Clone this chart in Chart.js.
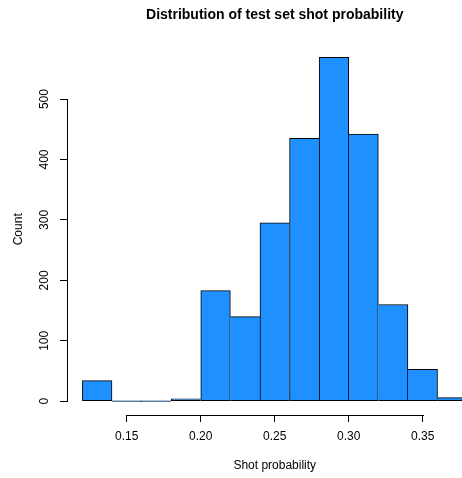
<!DOCTYPE html>
<html>
<head>
<meta charset="utf-8">
<script src="https://cdn.jsdelivr.net/npm/chart.js@4"></script>
<style>
    html, body { margin: 0; padding: 0; background: #fff; overflow: hidden; }
    canvas { display: block; }
</style>
</head>
<body>
<canvas id="histChart" width="550" height="478"></canvas>
<script>
const titleText = 'Distribution of test set shot probability';
const xTitle = 'Shot probability';
const yTitle = 'Count';

// histogram bin edges and counts per bin
const breaks = [0.12, 0.14, 0.16, 0.18, 0.20, 0.22, 0.24, 0.26, 0.28, 0.30, 0.32, 0.34, 0.36, 0.38];
const counts = [34, 0, 0, 4, 183, 140, 295, 435, 569, 442, 160, 53, 6];

const xTicks = [0.15, 0.20, 0.25, 0.30, 0.35];
const xTickLabels = ['0.15', '0.20', '0.25', '0.30', '0.35'];
const yTicks = [0, 100, 200, 300, 400, 500];
const yTickLabels = ['0', '100', '200', '300', '400', '500'];

const fontFamily = '"Liberation Sans", Arial, Helvetica, sans-serif';
Chart.defaults.font.family = fontFamily;
Chart.defaults.color = '#000';

// R pads the plot range by 4% on each side
const xSpan = breaks[breaks.length - 1] - breaks[0];
const xMin = breaks[0] - 0.04 * xSpan;
const xMax = breaks[breaks.length - 1] + 0.04 * xSpan;
const yTop = Math.max(...counts);
const yMin = -0.04 * yTop;
const yMax = yTop * 1.04;

// axis lines only run from the first to the last tick, like base R
const axisLines = {
    id: 'axisLines',
    afterDraw(chart) {
        const { ctx, chartArea, scales: { x, y } } = chart;
        const left = Math.round(chartArea.left) + 0.5;
        const bottom = Math.round(chartArea.bottom) + 0.5;
        ctx.save();
        ctx.strokeStyle = '#000';
        ctx.lineWidth = 1;
        ctx.beginPath();
        ctx.moveTo(left, Math.round(y.getPixelForValue(yTicks[0])) + 1);
        ctx.lineTo(left, Math.round(y.getPixelForValue(yTicks[yTicks.length - 1])));
        ctx.moveTo(Math.round(x.getPixelForValue(xTicks[0])), bottom);
        ctx.lineTo(Math.round(x.getPixelForValue(xTicks[xTicks.length - 1])) + 1, bottom);
        ctx.stroke();
        ctx.restore();
    }
};

// main title centred over the plot region
const mainTitle = {
    id: 'mainTitle',
    afterDraw(chart) {
        const { ctx, chartArea } = chart;
        ctx.save();
        ctx.font = 'bold 14px ' + fontFamily;
        ctx.fillStyle = '#000';
        ctx.textAlign = 'center';
        ctx.textBaseline = 'alphabetic';
        ctx.fillText(titleText, (chartArea.left + chartArea.right) / 2, 19);
        ctx.restore();
    }
};

function barBorder(ctx) {
    const i = ctx.dataIndex;
    const n = counts.length;
    return {
        top: 1,
        bottom: 1,
        left: (i === 0 || counts[i - 1] < counts[i]) ? 1 : 0,
        right: (i === n - 1 || counts[i + 1] <= counts[i]) ? 1 : 0
    };
}

const histCtx = document.getElementById('histChart').getContext('2d');
new Chart(histCtx, {
    type: 'bar',
    data: {
        datasets: [{
            data: counts.map((c, i) => ({ x: (breaks[i] + breaks[i + 1]) / 2, y: c })),
            backgroundColor: '#1E90FF',
            borderColor: '#000',
            borderWidth: barBorder,
            borderSkipped: false,
            minBarLength: 1,
            barPercentage: 1,
            categoryPercentage: 1
        }]
    },
    options: {
        responsive: false,
        animation: false,
        layout: {
            padding: { top: 43.6, right: 67.5, bottom: 0, left: 0 }
        },
        plugins: {
            legend: { display: false },
            tooltip: { enabled: false },
            title: { display: false }
        },
        scales: {
            x: {
                type: 'linear',
                min: xMin,
                max: xMax,
                offset: false,
                afterBuildTicks: (s) => { s.ticks = xTicks.map(v => ({ value: v })); },
                afterFit: (s) => { s.height = 63; },
                border: { display: false },
                grid: {
                    offset: false,
                    drawOnChartArea: false,
                    drawTicks: true,
                    tickLength: 7,
                    color: '#000',
                    lineWidth: 1
                },
                ticks: {
                    autoSkip: false,
                    maxRotation: 0,
                    padding: 7.5,
                    color: '#000',
                    font: { size: 12 },
                    callback: (v, i) => xTickLabels[i]
                },
                title: {
                    display: true,
                    text: xTitle,
                    color: '#000',
                    font: { size: 12 },
                    padding: { top: 0, bottom: 5 }
                }
            },
            y: {
                type: 'linear',
                min: yMin,
                max: yMax,
                afterBuildTicks: (s) => { s.ticks = yTicks.map(v => ({ value: v })); },
                afterFit: (s) => { s.width = 67; },
                border: { display: false },
                grid: {
                    drawOnChartArea: false,
                    drawTicks: true,
                    tickLength: 7,
                    color: '#000',
                    lineWidth: 1
                },
                ticks: {
                    autoSkip: false,
                    minRotation: 90,
                    maxRotation: 90,
                    crossAlign: 'center',
                    padding: 5,
                    color: '#000',
                    font: { size: 12 },
                    callback: (v, i) => yTickLabels[i]
                },
                title: {
                    display: true,
                    text: yTitle,
                    color: '#000',
                    font: { size: 12 },
                    padding: { top: 11, bottom: 0 }
                }
            }
        }
    },
    plugins: [axisLines, mainTitle]
});
</script>
</body>
</html>
